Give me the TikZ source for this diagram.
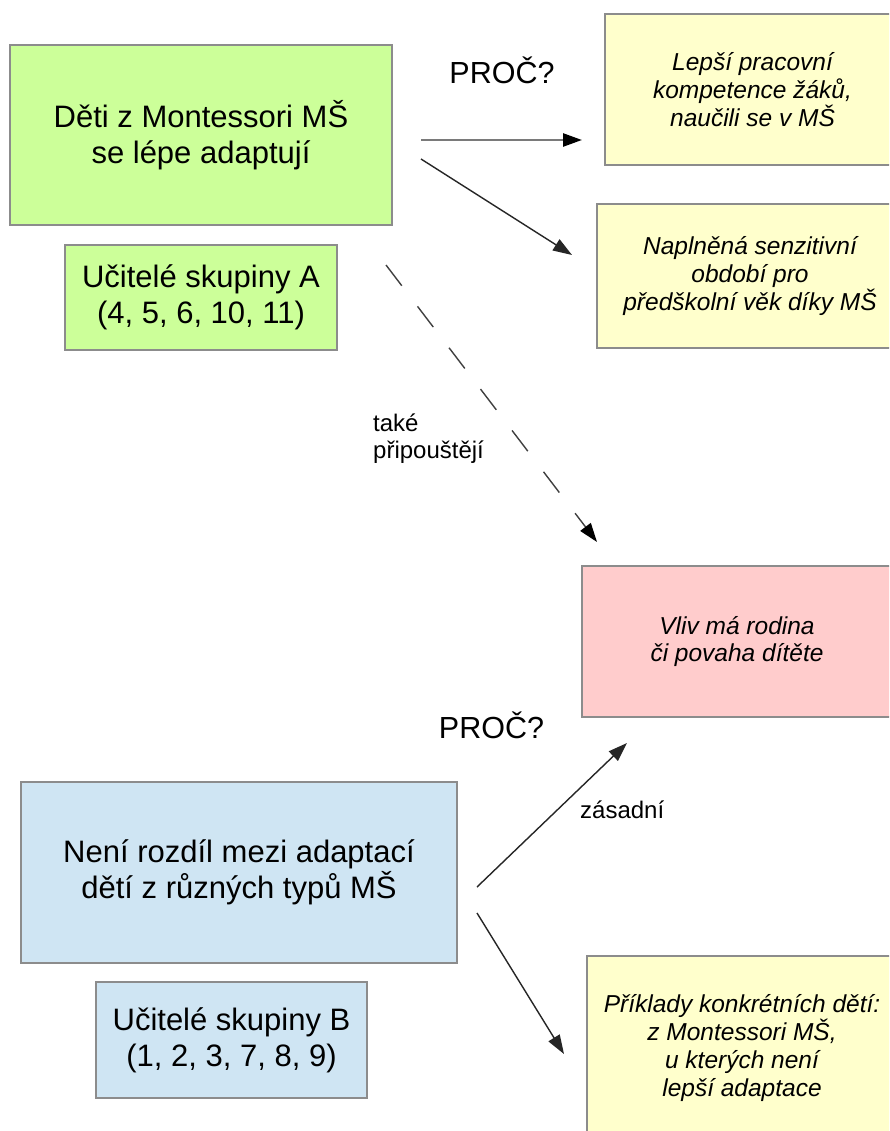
\documentclass[tikz,border=0pt]{standalone}
\usepackage{fontspec}
\setmainfont{Liberation Sans}
\usetikzlibrary{arrows.meta}
\definecolor{boxgreen}{HTML}{CCFF99}
\definecolor{boxyellow}{HTML}{FFFFCC}
\definecolor{boxred}{HTML}{FFCCCC}
\definecolor{boxblue}{HTML}{CFE5F3}
\definecolor{boxline}{HTML}{8C8C8C}
\definecolor{arrgray}{HTML}{7A7A7A}
\tikzset{
  box/.style={draw=boxline, line width=1.5pt, rectangle, inner sep=0pt, align=center},
  bigtext/.style={font=\fontsize{31}{36}\selectfont},
  ittext/.style={font=\fontsize{24.5}{27.8}\selectfont\itshape},
  lbl/.style={inner sep=0pt, font=\fontsize{24}{27}\selectfont},
  whylbl/.style={inner sep=0pt, font=\fontsize{30.5}{34}\selectfont},
  arr/.style={line width=1.4pt, draw=black!85, -{Triangle[length=19pt,width=13pt]}},
  grayarr/.style={line width=2.5pt, draw=arrgray, -{Triangle[length=19pt,width=13pt,fill=black,color=black]}},
  dasharr/.style={line width=1.4pt, draw=black!75, dash pattern=on 26pt off 26pt, -{Triangle[length=19pt,width=13pt,fill=black,color=black]}}
}
\begin{document}
\begin{tikzpicture}[x=1pt,y=-1pt]
\useasboundingbox (0,0) rectangle (889,1131);
\clip (0,0) rectangle (889,1131);
\fill[white] (0,0) rectangle (889,1131);

% boxes
\node[box, bigtext, fill=boxgreen, minimum width=382pt, minimum height=180pt] (b1) at (201,135) {Děti z Montessori MŠ\\se lépe adaptují};
\node[box, bigtext, fill=boxgreen, minimum width=272pt, minimum height=105pt] (bA) at (201,297.5) {Učitelé skupiny A\\(4, 5, 6, 10, 11)};
\node[box, ittext, fill=boxyellow, minimum width=295pt, minimum height=151pt] (y1) at (752.5,89.5) {Lepší pracovní\\kompetence žáků,\\naučili se v MŠ};
\node[box, ittext, fill=boxyellow, minimum width=306pt, minimum height=144pt] (y2) at (750,276) {Naplněná senzitivní\\období pro\\předškolní věk díky MŠ};
\node[box, ittext, fill=boxred, minimum width=310pt, minimum height=151pt] (r) at (737,641.5) {Vliv má rodina\\či povaha dítěte};
\node[box, bigtext, fill=boxblue, minimum width=436pt, minimum height=181pt] (b2) at (239,872.5) {Není rozdíl mezi adaptací\\dětí z různých typů MŠ};
\node[box, bigtext, fill=boxblue, minimum width=271pt, minimum height=116pt] (bB) at (231.5,1040) {Učitelé skupiny B\\(1, 2, 3, 7, 8, 9)};
\node[box, ittext, fill=boxyellow, minimum width=310pt, minimum height=184pt] (y3) at (742,1048) {Příklady konkrétních dětí:\\z Montessori MŠ,\\u kterých není\\lepší adaptace};

% labels
\node[whylbl, anchor=base] (why1) at (502,84) {PROČ?};
\node[whylbl, anchor=base] (why2) at (491.5,738) {PROČ?};
\node[lbl, align=left, anchor=west] (tak) at (373,439) {také\\připouštějí};
\node[lbl, anchor=base west] (zas) at (580,818) {zásadní};

% connector ends
\coordinate (a1s) at (421,140);
\coordinate (a1e) at (582,140);
\coordinate (a2s) at (421,159);
\coordinate (a2e) at (572,255);
\coordinate (a3s) at (386,265);
\coordinate (a3e) at (597,542);
\coordinate (a4s) at (477,887);
\coordinate (a4e) at (627,743);
\coordinate (a5s) at (477,913);
\coordinate (a5e) at (564,1054);

\draw[grayarr] (a1s) -- (a1e);
\draw[arr] (a2s) -- (a2e);
\draw[dasharr] (a3s) -- (a3e);
\draw[arr] (a4s) -- (a4e);
\draw[arr] (a5s) -- (a5e);
\end{tikzpicture}
\end{document}
